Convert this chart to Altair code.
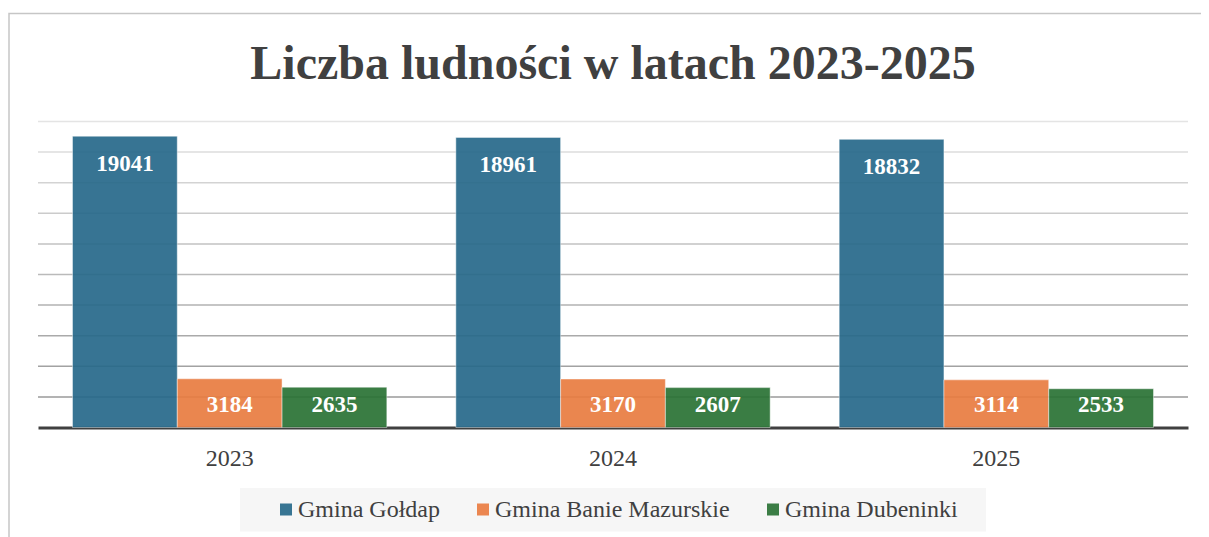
import altair as alt
import pandas as pd

# ---- data ----
years = ["2023", "2024", "2025"]
gminy = ["Gmina Gołdap", "Gmina Banie Mazurskie", "Gmina Dubeninki"]
goldap = [19041, 18961, 18832]
banie = [3184, 3170, 3114]
dubeninki = [2635, 2607, 2533]
grid_ticks = [2000, 4000, 6000, 8000, 10000, 12000, 14000, 16000, 18000, 20000]
title_text = "Liczba ludności w latach 2023-2025"
colors = ["#27698A", "#E97C41", "#2A7235"]

rows = []
for series, vals in zip(gminy, [goldap, banie, dubeninki]):
    for y, v in zip(years, vals):
        rows.append({"rok": y, "gmina": series, "wartosc": v, "etykieta": str(v)})
df = pd.DataFrame(rows)

W, H = 1150, 306
FONT = "Liberation Serif"
TXT = "#404040"

y_scale = alt.Scale(domain=[0, 20000], nice=False, zero=True)
x_scale = alt.Scale(domain=years, paddingInner=0.18, paddingOuter=0.09)
x_axis = alt.Axis(title=None, labelFont=FONT, labelFontSize=24, labelColor=TXT,
                  labelAngle=0, ticks=False, tickSize=0, domainColor=TXT, domainWidth=3,
                  labelPadding=38, labelBaseline="alphabetic", grid=False)
x_enc = alt.X("rok:N", sort=years, scale=x_scale, axis=x_axis)
xo_enc = alt.XOffset("gmina:N", sort=gminy, scale=alt.Scale(domain=gminy, paddingInner=0, paddingOuter=0))

frame = alt.Chart(pd.DataFrame({"a": [0]})).mark_rect(
    fillOpacity=0, stroke="#c6c6c6", strokeWidth=1.5
).encode(x=alt.value(-29), x2=alt.value(1200), y=alt.value(-108), y2=alt.value(500))

legend_bg = alt.Chart(pd.DataFrame({"a": [0]})).mark_rect(
    fill="#f6f6f6"
).encode(x=alt.value(202), x2=alt.value(948), y=alt.value(366.5), y2=alt.value(410))

grid = alt.Chart(pd.DataFrame({"v": grid_ticks})).mark_rule(strokeWidth=1.5).encode(
    y=alt.Y("v:Q", scale=y_scale, axis=None),
    stroke=alt.Stroke("v:Q", scale=alt.Scale(domain=[2000, 20000], range=["#9a9a9a", "#e4e4e4"]), legend=None),
)

bars = alt.Chart(df).mark_bar(opacity=0.92, stroke="#ffffff", strokeOpacity=0.45, strokeWidth=1).encode(
    x=x_enc,
    xOffset=xo_enc,
    y=alt.Y("wartosc:Q", scale=y_scale, axis=None),
    color=alt.Color("gmina:N", sort=gminy, scale=alt.Scale(domain=gminy, range=colors),
                    legend=alt.Legend(orient="none", legendX=235, legendY=376, direction="horizontal",
                                      title=None, labelFont=FONT, labelFontSize=24, labelColor=TXT,
                                      symbolType="square", symbolSize=144, symbolStrokeWidth=0,
                                      symbolOffset=1, labelOffset=0, columnPadding=30, padding=0,
                                      labelLimit=0)),
)

labels = alt.Chart(df).transform_calculate(
    label_y="max(datum.wartosc - 2290, 1030)"
).mark_text(font=FONT, fontWeight="bold", fontSize=23, color="white", baseline="alphabetic", align="center").encode(
    x=x_enc,
    xOffset=xo_enc,
    y=alt.Y("label_y:Q", scale=y_scale, axis=None),
    text="etykieta:N",
)

title = alt.Chart(pd.DataFrame({"t": [title_text]})).mark_text(
    font=FONT, fontWeight="bold", fontSize=48, color=TXT, baseline="alphabetic", align="center"
).encode(x=alt.value(W / 2), y=alt.value(-43), text="t:N")

chart = alt.layer(frame, legend_bg, grid, bars, labels, title).properties(
    width=W, height=H,
    padding={"left": 30, "top": 113.5, "right": 13, "bottom": 109.5},
    autosize=alt.AutoSizeParams(type="none"),
).configure_view(stroke=None)

chart.save("out.html", embed_options={"renderer": "svg", "actions": False})
